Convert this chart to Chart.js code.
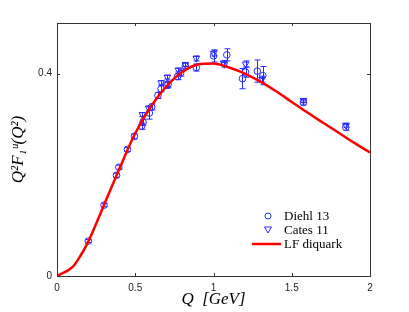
<!DOCTYPE html>
<html><head><meta charset="utf-8">
<script src="https://cdn.jsdelivr.net/npm/chart.js@4.4.0/dist/chart.umd.min.js"></script>
<style>html,body{margin:0;padding:0;background:#fff;}#wrap{width:409px;height:312px;}</style>
</head><body><div id="wrap"><canvas id="c" width="409" height="312"></canvas></div>
<script>
// Diehl 13 (circles): Q, Q^2 F1^u, error
const diehlQ   = [0.20,0.30,0.38,0.395,0.45,0.495,0.54,0.55,0.59,0.605,0.645,0.665,0.70,0.71,0.77,0.79,0.82,0.89,1.00,1.085,1.185,1.205,1.28,1.315,1.575,1.845];
const diehlY   = [0.069,0.140,0.199,0.215,0.250,0.276,0.296,0.304,0.322,0.334,0.357,0.370,0.377,0.379,0.394,0.401,0.415,0.412,0.435,0.437,0.390,0.403,0.405,0.396,0.343,0.294];
const diehlErr = [0.003,0.003,0.004,0.004,0.004,0.005,0.006,0.006,0.012,0.006,0.006,0.006,0.006,0.006,0.006,0.006,0.006,0.007,0.012,0.012,0.020,0.010,0.022,0.018,0.005,0.006];
// Cates 11 (triangles)
const catesQ   = [0.545,0.585,0.665,0.705,0.775,0.82,0.89,1.00,1.065,1.07,1.205,1.31,1.575,1.845];
const catesY   = [0.319,0.332,0.382,0.393,0.407,0.418,0.430,0.440,0.421,0.418,0.419,0.389,0.347,0.298];
const catesErr = [0.004,0.004,0.004,0.004,0.004,0.004,0.005,0.005,0.005,0.005,0.006,0.006,0.004,0.004];
// LF diquark curve
const lfQ = [0,0.1,0.15,0.2,0.3,0.4,0.5,0.6,0.7,0.8,0.9,1.0,1.1,1.2,1.3,1.4,1.5,1.6,1.7,1.8,1.9,2.0];
const lfY = [0,0.018,0.040,0.068,0.140,0.213,0.282,0.335,0.375,0.403,0.418,0.420,0.412,0.400,0.384,0.365,0.344,0.323,0.303,0.283,0.263,0.244];
const xTicks = [0,0.5,1,1.5,2];
const xTickLabels = ['0','0.5','1','1.5','2'];
const yTicks = [0,0.4];
const yTickLabels = ['0','0.4'];
const legendLabels = ['Diehl 13','Cates 11','LF diquark'];

const BLUE = '#2a2aff';
const RED = '#ff0000';
const pts = (xs, ys) => xs.map((x,i)=>({x:x,y:ys[i]}));

const errPlugin = {
  id:'err',
  beforeDatasetsDraw(chart){
    const {ctx, scales:{x,y}} = chart;
    ctx.save();
    ctx.strokeStyle = BLUE; ctx.lineWidth = 1;
    const draw = (qs, ys, es) => {
      qs.forEach((q,i)=>{
        const px = Math.round(x.getPixelForValue(q))+0.5;
        const y1 = y.getPixelForValue(ys[i]-es[i]);
        const y2 = y.getPixelForValue(ys[i]+es[i]);
        ctx.beginPath();
        ctx.moveTo(px,y1); ctx.lineTo(px,y2);
        ctx.moveTo(px-3,y1); ctx.lineTo(px+3,y1);
        ctx.moveTo(px-3,y2); ctx.lineTo(px+3,y2);
        ctx.stroke();
      });
    };
    draw(diehlQ, diehlY, diehlErr);
    draw(catesQ, catesY, catesErr);
    ctx.restore();
  },
  afterDraw(chart){
    const {ctx, chartArea:a, scales:{x,y}} = chart;
    ctx.save();
    ctx.strokeStyle = '#333'; ctx.lineWidth = 1;
    ctx.strokeRect(Math.round(a.left)+0.5, Math.round(a.top)+0.5, Math.round(a.right-a.left), Math.round(a.bottom-a.top));
    ctx.beginPath();
    xTicks.forEach(v=>{
      const px = Math.round(x.getPixelForValue(v))+0.5;
      ctx.moveTo(px,a.bottom); ctx.lineTo(px,a.bottom-3);
      ctx.moveTo(px,a.top); ctx.lineTo(px,a.top+3);
    });
    yTicks.forEach(v=>{
      const py = Math.round(y.getPixelForValue(v))+0.5;
      ctx.moveTo(a.left,py); ctx.lineTo(a.left+3,py);
      ctx.moveTo(a.right,py); ctx.lineTo(a.right-3,py);
    });
    ctx.stroke();
    // legend
    const lx = a.right - 102, ly = a.bottom - 60;
    ctx.lineWidth = 1; ctx.strokeStyle = BLUE;
    ctx.beginPath(); ctx.arc(lx, ly, 3, 0, Math.PI*2); ctx.stroke();
    const ty = ly + 14;
    ctx.beginPath(); ctx.moveTo(lx-3.5, ty-3); ctx.lineTo(lx+3.5, ty-3); ctx.lineTo(lx, ty+3); ctx.closePath(); ctx.stroke();
    ctx.strokeStyle = RED; ctx.lineWidth = 2.5;
    ctx.beginPath(); ctx.moveTo(lx-16, ly+28); ctx.lineTo(lx+13, ly+28); ctx.stroke();
    ctx.fillStyle = '#000'; ctx.font = '13px "Liberation Serif", serif';
    ctx.textBaseline = 'middle'; ctx.textAlign = 'left';
    legendLabels.forEach((t,i)=>ctx.fillText(t, lx+16, ly + i*14 + 1));
    ctx.restore();
  }
};

new Chart(document.getElementById('c'), {
  data: {
    datasets: [
      {type:'line', label:legendLabels[2], data: pts(lfQ, lfY), borderColor: RED, borderWidth: 2.5, pointRadius: 0, cubicInterpolationMode: 'monotone', fill:false, order: 0},
      {type:'scatter', label:legendLabels[0], data: pts(diehlQ, diehlY), pointStyle:'circle', pointRadius: 3.3, borderColor: BLUE, backgroundColor:'rgba(0,0,0,0)', borderWidth: 1, order: 1},
      {type:'scatter', label:legendLabels[1], data: pts(catesQ, catesY), pointStyle:'triangle', rotation: 180, pointRadius: 3.8, borderColor: BLUE, backgroundColor:'rgba(0,0,0,0)', borderWidth: 1, order: 2}
    ]
  },
  options: {
    responsive: false, animation: false, devicePixelRatio: 1,
    layout: {padding: {top: 23, right: 39, left: 0, bottom: 0}},
    plugins: {legend:{display:false}, tooltip:{enabled:false}},
    scales: {
      x: {
        type:'linear', min:0, max:2,
        grid:{display:false, drawTicks:false}, border:{display:false},
        afterBuildTicks: s => { s.ticks = xTicks.map(v=>({value:v})); },
        afterFit: s => { s.height = 36; },
        ticks:{ padding: 6, color:'#222', font:{family:'"Liberation Sans", Arial, sans-serif', size: 10},
          callback: (v) => xTickLabels[xTicks.indexOf(v)] },
        title:{display:true, text:'Q  [GeV]', color:'#000', font:{family:'"Liberation Serif", serif', size:17, style:'italic'}, padding:{top:0,bottom:2}}
      },
      y: {
        type:'linear', min:0, max:0.5,
        grid:{display:false, drawTicks:false}, border:{display:false},
        afterBuildTicks: s => { s.ticks = yTicks.map(v=>({value:v})); },
        afterFit: s => { s.width = 57; },
        ticks:{ padding: 5, color:'#222', font:{family:'"Liberation Sans", Arial, sans-serif', size: 10},
          callback: (v) => yTickLabels[yTicks.indexOf(v)] },
        title:{display:true, text:'Q²F₁ᵘ(Q²)', color:'#000', font:{family:'"Liberation Serif", serif', size:17, style:'italic'}, padding:{top:8,bottom:0}}
      }
    }
  },
  plugins: [errPlugin]
});
</script></body></html>
